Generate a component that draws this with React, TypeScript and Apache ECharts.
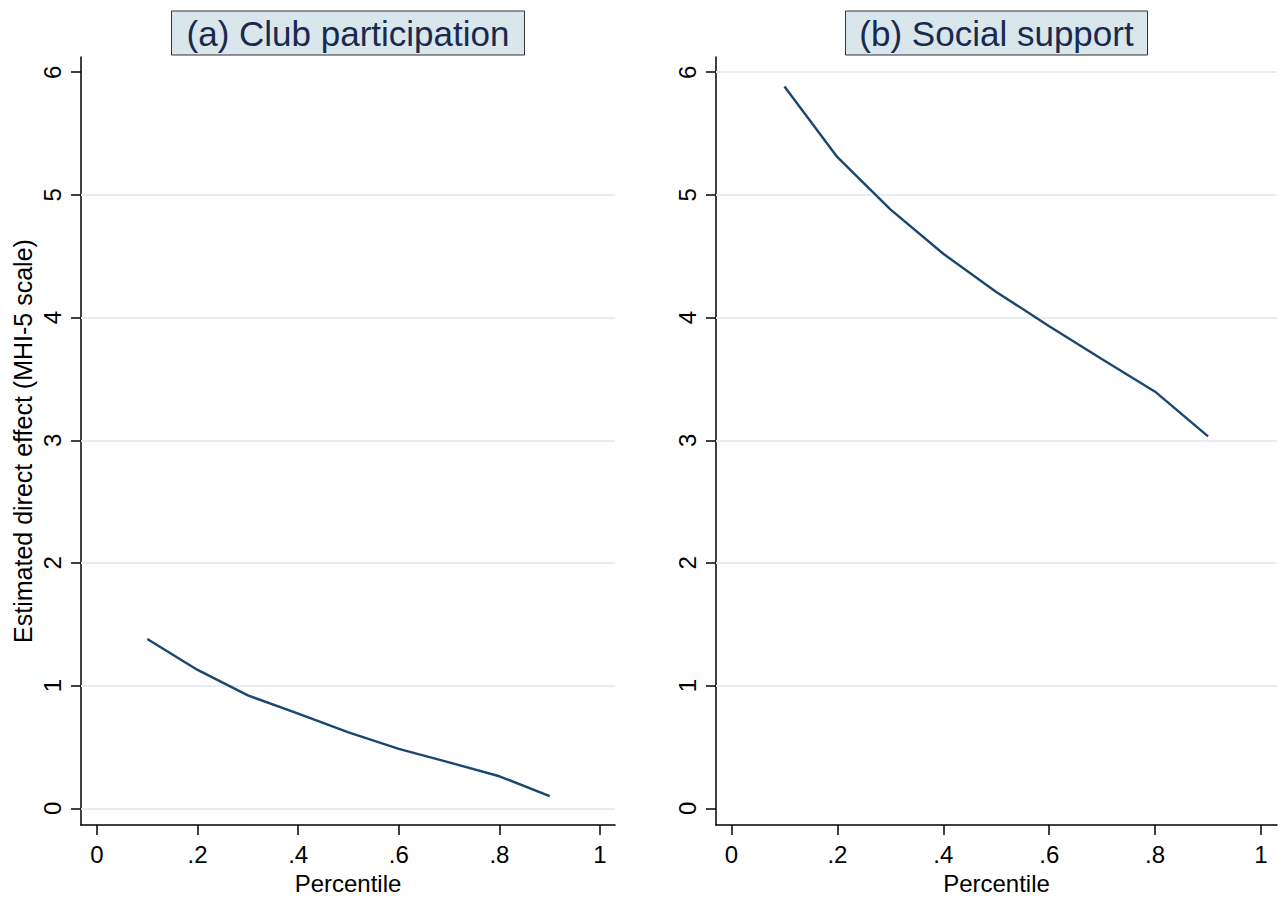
import React, { useEffect, useRef } from "react";
import * as echarts from "echarts";

const percentiles = [0.1, 0.2, 0.3, 0.4, 0.5, 0.6, 0.7, 0.8, 0.9];
const clubEffect = [1.38, 1.128, 0.92, 0.771, 0.618, 0.484, 0.374, 0.261, 0.1];
const socialEffect = [5.883, 5.307, 4.882, 4.52, 4.209, 3.93, 3.661, 3.396, 3.031];
const xTicks = [0, 0.2, 0.4, 0.6, 0.8, 1];
const xTickLabels = ["0", ".2", ".4", ".6", ".8", "1"];
const yTicks = [0, 1, 2, 3, 4, 5, 6];
const leftGridLines = [0, 1, 2, 3, 4, 5];
const rightGridLines = [1, 2, 3, 4, 5, 6];
const panelTitles = ["(a) Club participation", "(b) Social support"];
const xAxisTitle = "Percentile";
const yAxisTitle = "Estimated direct effect (MHI-5 scale)";

const FONT = "'Liberation Sans', Arial, sans-serif";
const LINE_COLOR = "#1a476f";
const GRID_COLOR = "#e6eef3";

export default function App() {
  const ref = useRef<HTMLDivElement>(null);

  useEffect(() => {
    if (!ref.current) return;
    const chart = echarts.init(ref.current, undefined, { renderer: "svg" });

    const grids = [
      { left: 81, top: 57, width: 534, height: 777 },
      { left: 716, top: 57, width: 561, height: 777 },
    ];
    const xRanges = [
      { min: -0.0318, max: 1.0298 },
      { min: -0.0293, max: 1.0302 },
    ];

    const mkX = (i: number) => ({
      type: "value",
      gridIndex: i,
      min: xRanges[i].min,
      max: xRanges[i].max,
      name: xAxisTitle,
      nameLocation: "middle",
      nameGap: 40,
      nameTextStyle: { fontFamily: FONT, fontSize: 24, color: "#000" },
      axisLine: { show: true, onZero: false, lineStyle: { color: "#000", width: 1.5 } },
      axisTick: {
        show: true,
        length: 10,
        customValues: xTicks,
        lineStyle: { color: "#000", width: 1.5 },
      },
      axisLabel: {
        customValues: xTicks,
        margin: 17,
        fontFamily: FONT,
        fontSize: 24,
        color: "#000",
        formatter: (v: number) => {
          const idx = xTicks.findIndex((t) => Math.abs(t - v) < 1e-9);
          return idx >= 0 ? xTickLabels[idx] : "";
        },
      },
      splitLine: { show: false },
    });

    const mkY = (i: number) => ({
      type: "value",
      gridIndex: i,
      min: -0.137,
      max: 6.124,
      name: i === 0 ? yAxisTitle : "",
      nameLocation: "middle",
      nameRotate: 90,
      nameGap: 46,
      nameTextStyle: { fontFamily: FONT, fontSize: 25, color: "#000" },
      axisLine: { show: true, onZero: false, lineStyle: { color: "#000", width: 1.5 } },
      axisTick: {
        show: true,
        length: 10,
        customValues: yTicks,
        lineStyle: { color: "#000", width: 1.5 },
      },
      axisLabel: {
        customValues: yTicks,
        rotate: 90,
        margin: 17,
        fontFamily: FONT,
        fontSize: 24,
        color: "#000",
      },
      splitLine: { show: false },
    });

    const gridLineSeries = (i: number, vals: number[]) => ({
      type: "line",
      xAxisIndex: i,
      yAxisIndex: i,
      data: [],
      silent: true,
      markLine: {
        silent: true,
        z: 1,
        symbol: "none",
        label: { show: false },
        lineStyle: { color: GRID_COLOR, width: 2, type: "solid" },
        data: vals.map((v) => ({ yAxis: v })),
      },
      z: 1,
    });

    const titleGraphics = grids.map((g, i) => {
      const boxW = i === 0 ? 353 : 302;
      const cx = g.left + g.width / 2;
      return {
        type: "group",
        children: [
          {
            type: "rect",
            shape: { x: cx - boxW / 2, y: 11, width: boxW, height: 44 },
            style: { fill: "#d9e6ec", stroke: "#333", lineWidth: 1 },
          },
          {
            type: "text",
            x: cx,
            y: 33.5,
            style: {
              text: panelTitles[i],
              fontFamily: FONT,
              fontSize: 35,
              fill: "#1a2a4f",
              textAlign: "center",
              textVerticalAlign: "middle",
            },
          },
        ],
      };
    });

    chart.setOption({
      animation: false,
      backgroundColor: "#ffffff",
      grid: grids,
      xAxis: [mkX(0), mkX(1)],
      yAxis: [mkY(0), mkY(1)],
      graphic: titleGraphics,
      series: [
        gridLineSeries(0, leftGridLines),
        gridLineSeries(1, rightGridLines),
        {
          type: "line",
          xAxisIndex: 0,
          yAxisIndex: 0,
          data: percentiles.map((p, k) => [p, clubEffect[k]]),
          showSymbol: false,
          lineStyle: { color: LINE_COLOR, width: 2.4 },
          z: 10,
        },
        {
          type: "line",
          xAxisIndex: 1,
          yAxisIndex: 1,
          data: percentiles.map((p, k) => [p, socialEffect[k]]),
          showSymbol: false,
          lineStyle: { color: LINE_COLOR, width: 2.4 },
          z: 10,
        },
      ],
    });

    return () => chart.dispose();
  }, []);

  return (
    <div
      ref={ref}
      style={{ width: 1283, height: 900, position: "absolute", left: 0, top: 0 }}
    />
  );
}
